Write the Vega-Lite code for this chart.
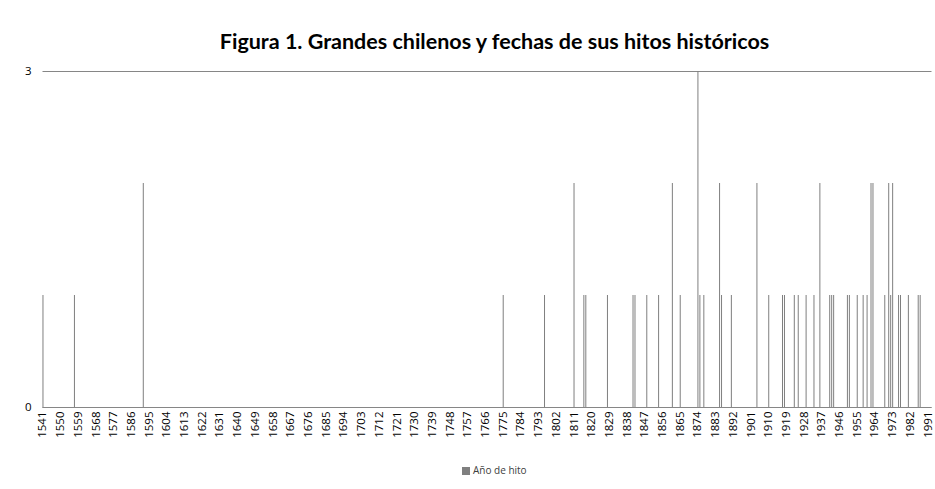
{
  "$schema": "https://vega.github.io/schema/vega-lite/v6.json",
  "autosize": {"type": "none"},
  "padding": {"left": 42, "top": 71, "right": 4, "bottom": 82},
  "width": 889,
  "height": 336,
  "background": "white",
  "config": {
    "view": {"stroke": null},
    "font": "Open Sans"
  },
  "title": {
    "text": "Figura 1. Grandes chilenos y fechas de sus hitos  históricos",
    "font": "Lato",
    "fontSize": 21.5,
    "fontWeight": "bold",
    "color": "#000000",
    "anchor": "middle",
    "dx": 8,
    "offset": 12
  },
  "data": {
    "values": [
      {"anio": 1541, "n": 1}, {"anio": 1557, "n": 1}, {"anio": 1592, "n": 2},
      {"anio": 1775, "n": 1}, {"anio": 1796, "n": 1}, {"anio": 1811, "n": 2},
      {"anio": 1816, "n": 1}, {"anio": 1817, "n": 1}, {"anio": 1828, "n": 1},
      {"anio": 1841, "n": 1}, {"anio": 1842, "n": 1}, {"anio": 1848, "n": 1},
      {"anio": 1854, "n": 1}, {"anio": 1861, "n": 2}, {"anio": 1865, "n": 1},
      {"anio": 1874, "n": 3}, {"anio": 1875, "n": 1}, {"anio": 1877, "n": 1},
      {"anio": 1885, "n": 2}, {"anio": 1886, "n": 1}, {"anio": 1891, "n": 1},
      {"anio": 1904, "n": 2}, {"anio": 1910, "n": 1}, {"anio": 1917, "n": 1},
      {"anio": 1918, "n": 1}, {"anio": 1923, "n": 1}, {"anio": 1925, "n": 1},
      {"anio": 1929, "n": 1}, {"anio": 1933, "n": 1}, {"anio": 1936, "n": 2},
      {"anio": 1941, "n": 1}, {"anio": 1942, "n": 1}, {"anio": 1943, "n": 1},
      {"anio": 1950, "n": 1}, {"anio": 1951, "n": 1}, {"anio": 1955, "n": 1},
      {"anio": 1958, "n": 1}, {"anio": 1960, "n": 1}, {"anio": 1962, "n": 2},
      {"anio": 1963, "n": 2}, {"anio": 1969, "n": 1}, {"anio": 1971, "n": 2},
      {"anio": 1972, "n": 1}, {"anio": 1973, "n": 2}, {"anio": 1976, "n": 1},
      {"anio": 1977, "n": 1}, {"anio": 1981, "n": 1}, {"anio": 1986, "n": 1},
      {"anio": 1987, "n": 1}
    ]
  },
  "mark": {"type": "rule", "strokeWidth": 1},
  "encoding": {
    "x": {
      "field": "anio",
      "type": "quantitative",
      "scale": {"domain": [1540.5, 1992.5], "nice": false, "zero": false},
      "axis": {
        "title": null,
        "values": [1541,1550,1559,1568,1577,1586,1595,1604,1613,1622,1631,1640,1649,1658,1667,1676,1685,1694,1703,1712,1721,1730,1739,1748,1757,1766,1775,1784,1793,1802,1811,1820,1829,1838,1847,1856,1865,1874,1883,1892,1901,1910,1919,1928,1937,1946,1955,1964,1973,1982,1991],
        "format": "d",
        "labelAngle": -90,
        "labelFontSize": 11.5,
        "labelColor": "#000000",
        "labelPadding": 4,
        "ticks": false,
        "grid": false,
        "domainColor": "#868686",
        "domainWidth": 1,
        "labelOverlap": false,
        "labelFlush": false
      }
    },
    "y": {
      "field": "n",
      "type": "quantitative",
      "scale": {"domain": [0, 3], "nice": false},
      "axis": {
        "title": null,
        "values": [0, 3],
        "domain": false,
        "ticks": false,
        "grid": true,
        "gridColor": "#868686",
        "gridWidth": 1,
        "labelFontSize": 11.5,
        "labelColor": "#000000",
        "labelPadding": 11
      }
    },
    "y2": {"datum": 0},
    "color": {
      "datum": "Año de hito",
      "scale": {"range": ["#7f7f7f"]},
      "legend": {
        "title": null,
        "orient": "none",
        "legendX": 419,
        "legendY": 395,
        "symbolType": "square",
        "symbolSize": 64,
        "symbolFillColor": "#7f7f7f",
        "symbolStrokeColor": "#7f7f7f",
        "symbolStrokeWidth": 0,
        "symbolOpacity": 1,
        "labelFontSize": 10,
        "labelColor": "#404040",
        "labelOffset": 2
      }
    }
  }
}
